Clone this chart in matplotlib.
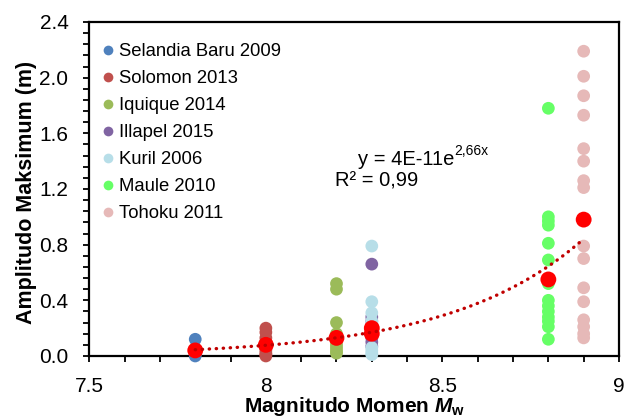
import numpy as np
import matplotlib
matplotlib.use("Agg")
import matplotlib.pyplot as plt
from matplotlib.lines import Line2D

plt.rcParams['font.family'] = ['Liberation Sans', 'DejaVu Sans']
plt.rcParams['mathtext.fontset'] = 'custom'
plt.rcParams['mathtext.rm'] = 'Liberation Sans:bold'
plt.rcParams['mathtext.it'] = 'Liberation Sans:italic:bold'
plt.rcParams['mathtext.bf'] = 'Liberation Sans:bold'

# ---- data ----
events = ["Selandia Baru 2009", "Solomon 2013", "Iquique 2014", "Illapel 2015",
          "Kuril 2006", "Maule 2010", "Tohoku 2011"]
magnitudes = [7.8, 8.0, 8.2, 8.3, 8.3, 8.8, 8.9]
colors = ["#4F81BD", "#C0504D", "#9BBB59", "#8064A2", "#B7DEE8", "#66FF66", "#E6B9B8"]

selandia = [0.12, 0.05, 0.03, 0.01, 0.0]
solomon = [0.20, 0.17, 0.13, 0.09, 0.06, 0.04, 0.02, 0.01, 0.0]
iquique = [0.52, 0.48, 0.24, 0.16, 0.12, 0.09, 0.07, 0.05, 0.03, 0.02]
illapel = [0.66, 0.28, 0.25, 0.22, 0.19, 0.16, 0.13, 0.10, 0.07]
kuril = [0.79, 0.39, 0.31, 0.25, 0.06, 0.04, 0.02, 0.01]
maule = [1.78, 1.00, 0.97, 0.94, 0.81, 0.69, 0.55, 0.52, 0.40, 0.36,
         0.32, 0.28, 0.25, 0.21, 0.12]
tohoku = [2.19, 2.01, 1.87, 1.73, 1.49, 1.40, 1.26, 1.21, 0.98, 0.79,
          0.70, 0.49, 0.39, 0.26, 0.21, 0.16, 0.13]
amplitudes = [selandia, solomon, iquique, illapel, kuril, maule, tohoku]

mean_amplitude = [0.04, 0.08, 0.13, 0.16, 0.20, 0.55, 0.98]

trend_a = 4.4e-11
trend_b = 2.66
trend_range = [7.8, 8.9]

# ---- figure ----
W, H = 632, 419
fig = plt.figure(figsize=(W / 100, H / 100), dpi=100)
ax = fig.add_axes([0.1413, 0.1504, 0.9794 - 0.1413, 0.9475 - 0.1504])

for name, mag, col, vals in zip(events, magnitudes, colors, amplitudes):
    ax.scatter([mag] * len(vals), vals, s=84, color=col, edgecolors='none',
               zorder=3, clip_on=False)

ax.scatter(magnitudes, mean_amplitude, s=130, color="#FF0000", edgecolors='none',
           zorder=4, clip_on=False)

xt = np.linspace(trend_range[0], trend_range[1], 200)
ax.plot(xt, trend_a * np.exp(trend_b * xt), color="#C00000", lw=2.4,
        ls=(0, (0.1, 2.0)), dash_capstyle='round', zorder=5)

ax.set_xlim(7.5, 9)
ax.set_ylim(0, 2.4)
ax.set_xticks([7.5, 8, 8.5, 9])
ax.set_xticklabels(["7.5", "8", "8.5", "9"])
ax.set_yticks(np.arange(0, 2.41, 0.4))
ax.set_yticklabels([f"{v:.1f}" for v in np.arange(0, 2.41, 0.4)])
ax.set_xticks(np.arange(7.5, 9.01, 0.1), minor=True)
ax.set_yticks(np.arange(0, 2.41, 0.08), minor=True)
ax.tick_params(which='major', direction='out', length=4.5, width=1.3, labelsize=15, pad=10.5)
ax.tick_params(which='minor', direction='out', length=4, width=1.3)
for sp in ax.spines.values():
    sp.set_linewidth(1.6)

ax.set_xlabel("Magnitudo Momen $M_\\mathrm{w}$", fontsize=15, fontweight='bold')
ax.set_ylabel("Amplitudo Maksimum (m)", fontsize=15.5, fontweight='bold')
ax.xaxis.set_label_coords(0.5, -0.118)
ax.yaxis.set_label_coords(-0.098, 0.49)

handles = [Line2D([], [], ls='none', marker='o', markersize=7, color=c,
                  markeredgecolor='none') for c in colors]
ax.legend(handles, events, loc='upper left', frameon=False, fontsize=13.3,
          handlelength=0.6, handletextpad=0.3, labelspacing=0.54,
          borderaxespad=0.3, bbox_to_anchor=(0.0, 0.975))

t1 = ax.text(358, H - 165, "y = 4E-11e", fontsize=14.5, transform=None, va='baseline')
ax.annotate("2,66x", xy=(1.0, 0.6), xycoords=t1, fontsize=10, va='bottom', ha='left')
ax.text(335, H - 186, "R² = 0,99", fontsize=14.5, transform=None, va='baseline')

fig.savefig("out.png", dpi=100)
